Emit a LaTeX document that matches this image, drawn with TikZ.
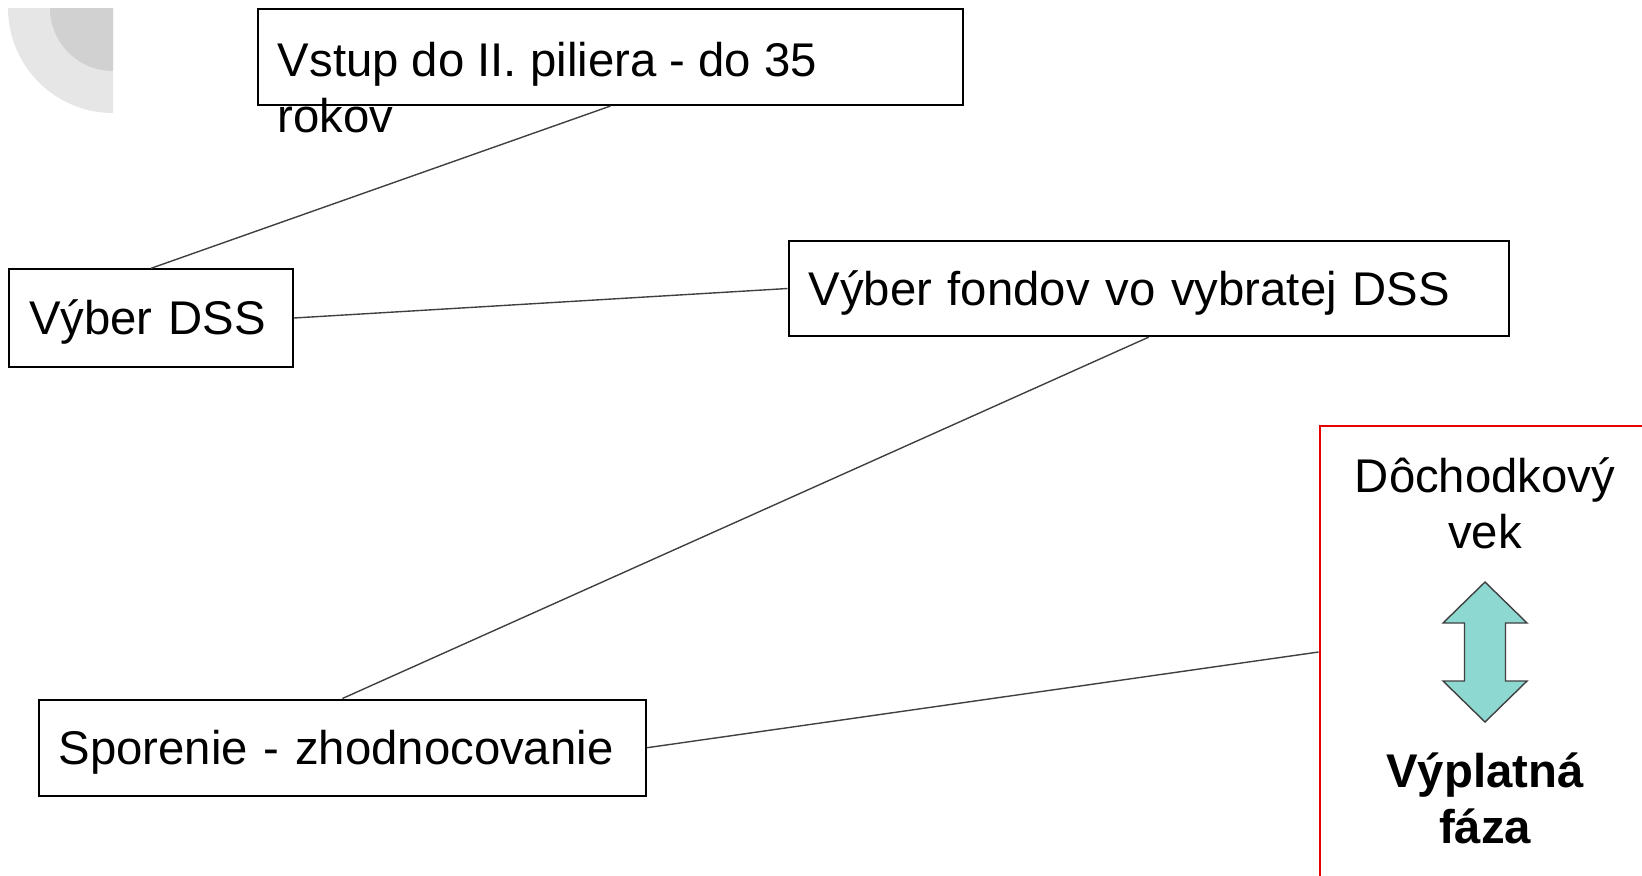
\documentclass[tikz,border=0pt]{standalone}
\usepackage{fontspec}
\setmainfont{Liberation Sans}
\usepackage{tikz}
\usetikzlibrary{positioning}
\usepackage{xcolor}
\definecolor{mylight}{RGB}{230,230,230}
\definecolor{mydark}{RGB}{209,209,209}
\definecolor{myteal}{RGB}{142,216,210}
\definecolor{myred}{RGB}{230,0,0}
\colorlet{mygray}{black!75}
\tikzstyle{stepbox}=[draw=black,line width=1pt,rectangle,inner xsep=10pt,inner ysep=0pt,align=left,text height=16.5pt,text depth=0pt]
\tikzstyle{phase}=[draw=myred,line width=1pt,rectangle,inner sep=0pt]
\tikzstyle{connect}=[mygray,line width=0.7pt]
\tikzstyle{bigarrow}=[fill=myteal,draw=black!75,line width=0.7pt,line join=miter]

\begin{document}
\begin{tikzpicture}[x=0.5pt,y=-0.5pt,
    font=\fontsize{23.65pt}{28pt}\selectfont]
\useasboundingbox (0,0) rectangle (1642,875);

% corner
\fill[mylight] (113,8) -- (8,8) arc[start angle=180,end angle=90,radius=105] -- cycle;
\fill[mydark] (113,8) -- (50,8) arc[start angle=180,end angle=90,radius=63] -- cycle;

% Steps
\node [stepbox, minimum width=352.5pt, minimum height=47.8pt] (V) at (610.5,57.2) {};
\node [anchor=base west, inner sep=0pt, align=left] (Vt) at (277.5,132.5) {Vstup do II. piliera - do 35\\rokov};
\node [stepbox, minimum width=141.85pt, minimum height=48.7pt, text width=121.85pt] (D) at (151,318) {Výber DSS};
\node [stepbox, minimum width=360.25pt, minimum height=47.6pt, text width=340.25pt] (F) at (1148.75,288.5) {Výber fondov vo vybratej DSS};
\node [stepbox, minimum width=303.7pt, minimum height=48.2pt, text width=283.7pt] (S) at (342.4,747.7) {Sporenie - zhodnocovanie};

% Payout phase
\node [phase, minimum width=190.25pt, minimum height=226pt] (P) at (1509.75,652) {};
\node [anchor=base, align=center, inner sep=0pt] (A) at (1485,548) {Dôchodkový\\vek};
\node [anchor=base, align=center, inner sep=0pt, font=\fontsize{23.65pt}{28pt}\selectfont\bfseries] (B) at (1485,843) {Výplatná\\fáza};
\draw [bigarrow] (1485,582) -- (1527,623) -- (1505.5,623) -- (1505.5,681) -- (1527,681) -- (1485,722)
    -- (1443,681) -- (1464.5,681) -- (1464.5,623) -- (1443,623) -- cycle;

\begin{scope} [connect]
    \draw (V.south) -- (D.north);
    \draw (D.east) -- (F.west);
    \draw (F.south) -- (S.north);
    \draw (S.east) -- (P.west);
\end{scope}

\end{tikzpicture}
\end{document}
